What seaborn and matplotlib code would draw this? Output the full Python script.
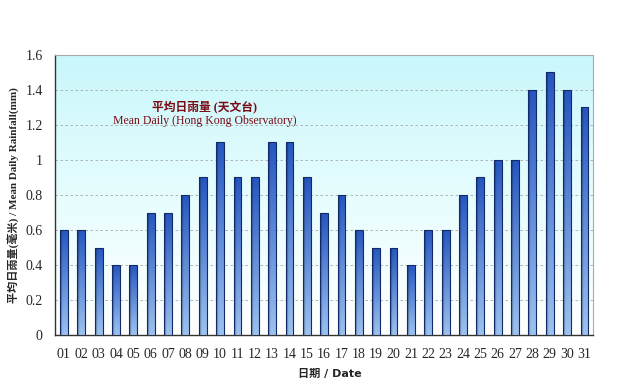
import numpy as np
import pandas as pd
import matplotlib
matplotlib.use("Agg")
import matplotlib.pyplot as plt
from matplotlib.colors import LinearSegmentedColormap, to_rgb
import seaborn as sns

DATES = [f"{d:02d}" for d in range(1, 32)]
RAIN = [0.6, 0.6, 0.5, 0.4, 0.4, 0.7, 0.7, 0.8, 0.9, 1.1, 0.9, 0.9, 1.1, 1.1, 0.9, 0.7,
        0.8, 0.6, 0.5, 0.5, 0.4, 0.6, 0.6, 0.8, 0.9, 1.0, 1.0, 1.4, 1.5, 1.4, 1.3]
Y_TICKS = [0, 0.2, 0.4, 0.6, 0.8, 1, 1.2, 1.4, 1.6]
Y_TICK_LABELS = ["0", "0.2", "0.4", "0.6", "0.8", "1", "1.2", "1.4", "1.6"]

sns.set_style("white")
plt.rcParams["font.family"] = ["Liberation Serif", "Noto Sans CJK TC", "DejaVu Sans"]

df = pd.DataFrame({"date": DATES, "rain": RAIN})

fig = plt.figure(figsize=(6.35, 3.9), dpi=100)
fig.patch.set_facecolor("white")
ax = fig.add_axes([0.087, 0.141, 0.847, 0.718])

sns.barplot(data=df, x="date", y="rain", color="#3a6fd0", width=0.45,
            edgecolor="#142a66", linewidth=0.8, ax=ax, zorder=3)

n = len(DATES)
ax.set_xlim(-0.5, n - 0.5)
ax.set_ylim(0, 1.6)

# background gradient: light cyan top -> white bottom
bg = np.linspace(0, 1, 256).reshape(-1, 1)
bg_cmap = LinearSegmentedColormap.from_list("bg", ["#ffffff", "#e6fdfe", "#c9f7fb"])
ax.imshow(bg, cmap=bg_cmap, aspect="auto", origin="lower",
          extent=[-0.5, n - 0.5, 0, 1.6], zorder=0)

# bar shading: dark blue at the top/left, lighter towards the bottom/right
top_c = np.array(to_rgb("#2556c0"))
bot_c = np.array(to_rgb("#9cc2f0"))
vy = np.linspace(0, 1, 64).reshape(-1, 1, 1)          # 0 bottom -> 1 top
hx = np.linspace(0, 1, 32).reshape(1, -1, 1)          # 0 left -> 1 right
base = bot_c + (top_c - bot_c) * vy
dark = np.clip(1.0 - 0.45 * np.clip(1 - hx * 3, 0, 1), 0, 1)
shade = np.clip(base * dark, 0, 1)
for p in ax.patches:
    x0, w, h = p.get_x(), p.get_width(), p.get_height()
    im = ax.imshow(shade, aspect="auto", origin="lower",
                   extent=[x0, x0 + w, 0, h], zorder=3.5)
    im.set_clip_path(p)
    p.set_zorder(4)
    p.set_facecolor("none")

ax.set_xlim(-0.5, n - 0.5)
ax.set_ylim(0, 1.6)

for y in Y_TICKS[1:-1]:
    ax.axhline(y, color="#a8a8a8", lw=0.6, ls=(0, (3, 3)), zorder=1)

ax.set_yticks(Y_TICKS)
ax.set_yticklabels(Y_TICK_LABELS, fontsize=10)
ax.set_xticks(range(n))
ax.set_xticklabels(DATES, fontsize=10)
ax.set_xticks(np.arange(0.5, n - 1, 1), minor=True)
ax.tick_params(axis="x", which="major", length=0, pad=9)
ax.tick_params(axis="x", which="minor", length=3, direction="in", color="#222222")
ax.tick_params(axis="y", length=3, direction="out", color="#222222", pad=6)

for side in ["left", "bottom"]:
    ax.spines[side].set_color("#333333")
    ax.spines[side].set_linewidth(1.0)
for side in ["top", "right"]:
    ax.spines[side].set_color("#aaaaaa")
    ax.spines[side].set_linewidth(0.8)

ax.set_xlabel("日期 / Date", fontsize=8, fontweight="bold",
              family=["DejaVu Sans", "Noto Sans CJK TC"])
ax.xaxis.set_label_coords(0.51, -0.12)
ax.set_ylabel("平均日雨量(毫米) / Mean Daily Rainfall(mm)", fontsize=8,
              fontweight="bold")
ax.yaxis.set_label_coords(-0.066, 0.5)

ax.text(8.1, 1.305, "平均日雨量 (天文台)", color="#7a0a14", fontsize=8.5,
        ha="center", va="center", fontweight="bold", zorder=5)
ax.text(8.1, 1.225, "Mean Daily (Hong Kong Observatory)", color="#7a0a14", fontsize=8.5,
        ha="center", va="center", zorder=5)

plt.savefig("out.png", dpi=100, facecolor="white")
plt.close()
